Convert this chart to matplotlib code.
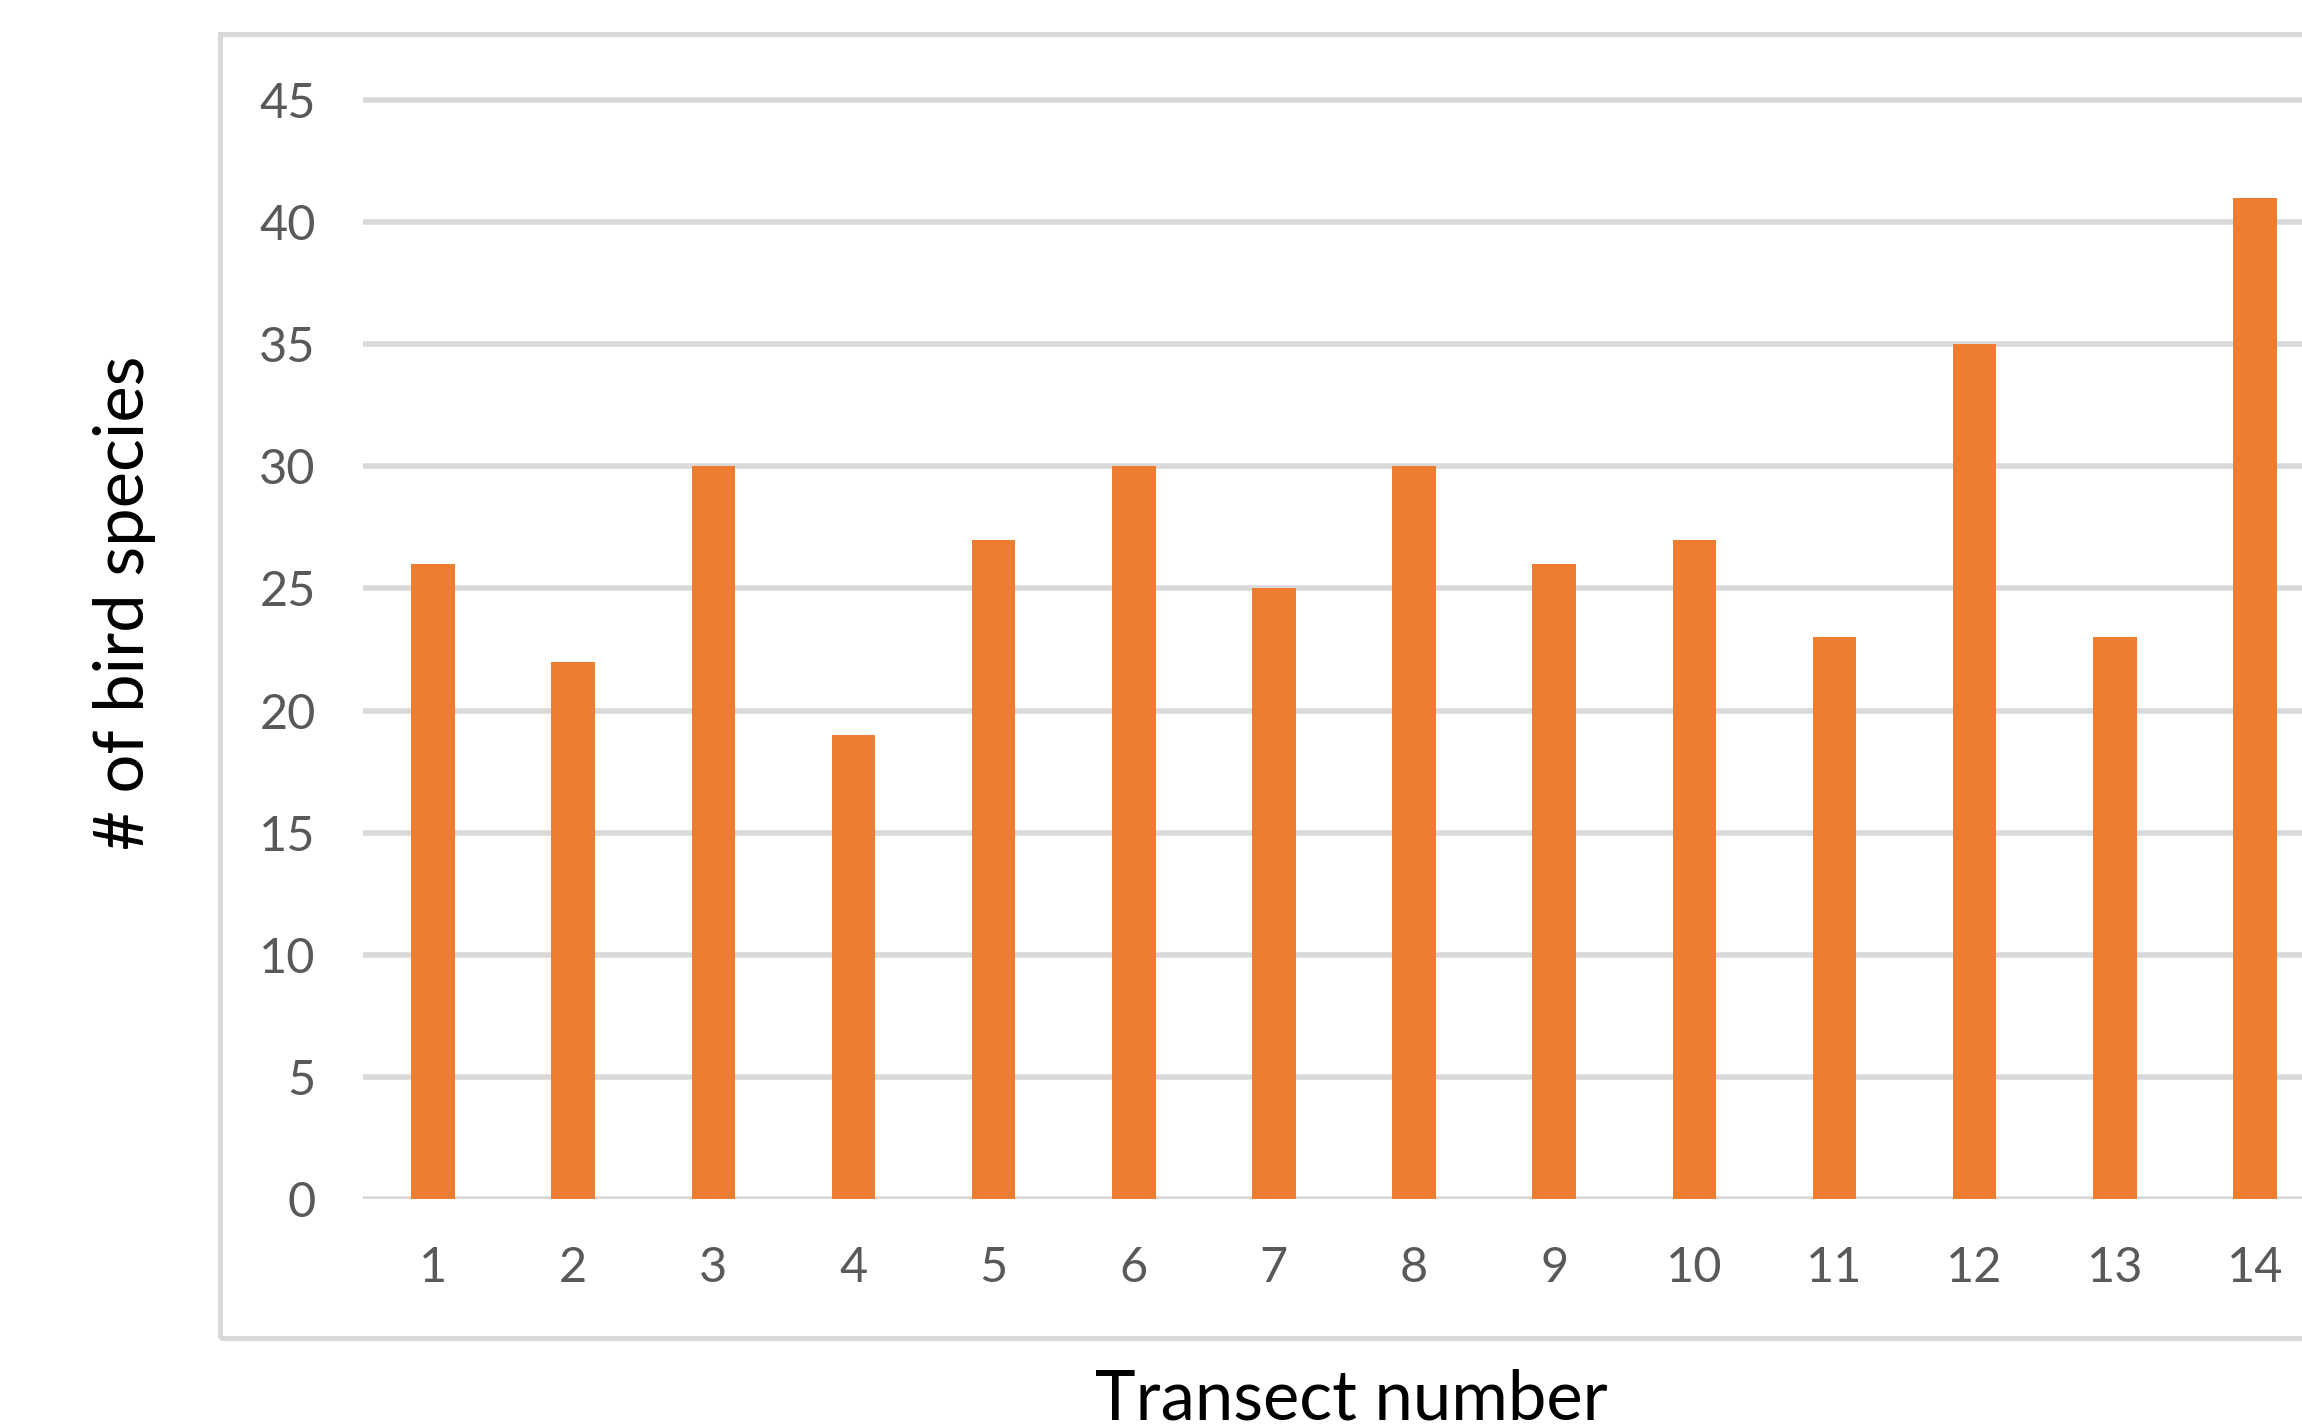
import matplotlib
matplotlib.use("Agg")
import matplotlib.pyplot as plt
from matplotlib.patches import Rectangle

transects = [str(i) for i in range(1, 15)]
species = [26, 22, 30, 19, 27, 30, 25, 30, 26, 27, 23, 35, 23, 41]
y_ticks = [0, 5, 10, 15, 20, 25, 30, 35, 40, 45]

W, H = 2302, 1428
dpi = 100
plt.rcParams['font.family'] = ['Lato', 'DejaVu Sans']

fig = plt.figure(figsize=(W / dpi, H / dpi), dpi=dpi)
fig.patch.set_facecolor('white')

# plot area in pixel terms
px_per_unit = (1199 - 100) / 45
y_top = 46
left_px, right_px = 363, 2325
bottom_px = 1199
top_px = bottom_px - y_top * px_per_unit
ax = fig.add_axes([left_px / W, (H - bottom_px) / H,
                   (right_px - left_px) / W, (bottom_px - top_px) / H])

x = list(range(1, len(transects) + 1))
ax.bar(x, species, width=0.31, color='#ED7D31', zorder=3)

ax.set_xlim(0.5, len(transects) + 0.5)
ax.set_ylim(0, y_top)
ax.set_yticks(y_ticks)
ax.set_xticks(x)
ax.set_xticklabels(transects)
for s in ax.spines.values():
    s.set_visible(False)
ax.tick_params(axis='both', length=0, labelsize=35, labelcolor='#595959')
ax.tick_params(axis='y', pad=34)
ax.tick_params(axis='x', pad=34)
ax.yaxis.grid(True, color='#D9D9D9', linewidth=4, zorder=0)
ax.set_axisbelow(True)

# chart frame
fig.patches.append(Rectangle((220 / W, (H - 1338) / H), (2400 - 220) / W, (1338 - 34) / H,
                             transform=fig.transFigure, fill=False,
                             edgecolor='#D9D9D9', linewidth=3.6, zorder=0))

fig.text(1351 / W, (H - 1420) / H, 'Transect number', fontsize=49.5,
         ha='center', va='baseline', color='black')
fig.text(125 / W, (H - 603) / H, '# of bird species', fontsize=49.5,
         ha='center', va='center', rotation=90, color='black')

fig.savefig('out.png', dpi=dpi, facecolor='white')
